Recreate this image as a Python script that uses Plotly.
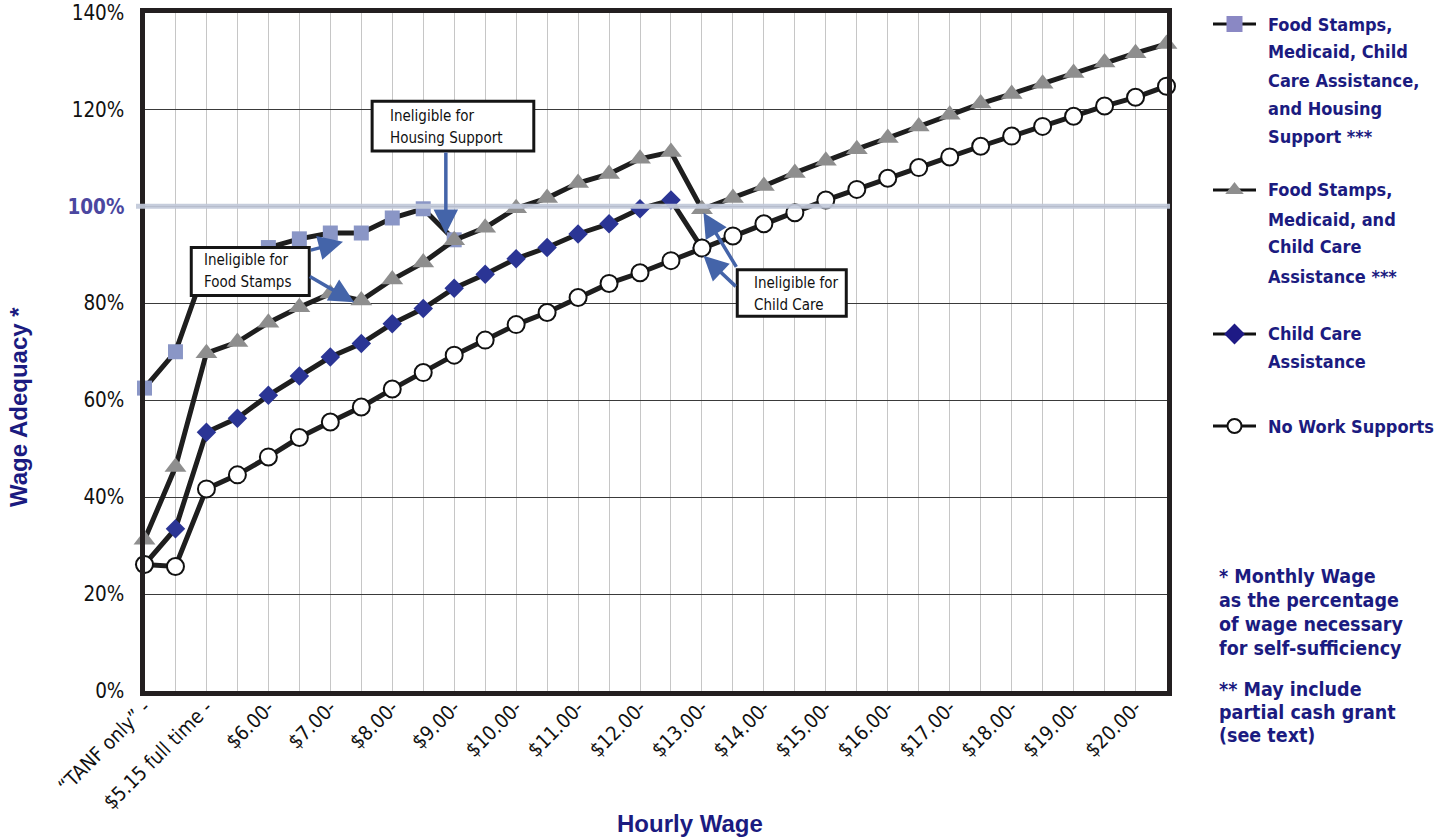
import plotly.graph_objects as go

W, H = 1445, 837
COND = "DejaVu Sans Condensed, Liberation Sans Narrow, sans-serif"
SANS = "Liberation Sans, Arial, DejaVu Sans, sans-serif"
NAVY = "#1B1B80"
LINE = "#1E1E1E"

# Wage steps: "TANF only", two $5.15 steps, then $5.50 ... $20.50 in $0.50 steps
wage_steps = list(range(34))
wage_labels = ["\u201cTANF only\u201d -", "$5.15 full time -", "$6.00-", "$7.00-", "$8.00-",
               "$9.00-", "$10.00-", "$11.00-", "$12.00-", "$13.00-", "$14.00-", "$15.00-",
               "$16.00-", "$17.00-", "$18.00-", "$19.00-", "$20.00-"]

# Wage adequacy (%) for each package of work supports
fs_med_cc_housing = [62.5, 70.0, 88.0, 90.0, 91.5, 93.3, 94.5, 94.5, 97.6, 99.5, 93.1]
fs_med_cc = [31.2, 46.2, 69.7, 72.0, 76.0, 79.2, 82.0, 80.6, 84.9, 88.4, 93.0, 95.6,
             99.6, 101.7, 104.8, 106.7, 109.8, 111.2, 99.4, 101.7, 104.2, 106.9, 109.4,
             111.8, 114.1, 116.5, 118.9, 121.2, 123.2, 125.3, 127.5, 129.7, 131.6, 133.5]
child_care = [26.1, 33.5, 53.4, 56.3, 61.0, 65.0, 68.9, 71.7, 75.8, 78.9, 83.1, 86.0,
              89.2, 91.5, 94.3, 96.4, 99.5, 101.3, 91.4]
no_supports = [26.1, 25.7, 41.7, 44.6, 48.3, 52.3, 55.5, 58.6, 62.3, 65.7, 69.3, 72.4,
               75.6, 78.1, 81.2, 84.1, 86.3, 88.8, 91.4, 93.9, 96.4, 98.7, 101.3, 103.5,
               105.8, 108.0, 110.2, 112.4, 114.5, 116.5, 118.6, 120.7, 122.5, 124.8]

pct_ticks = [0, 20, 40, 60, 80, 100, 120, 140]

series = [
    dict(lines=["Food Stamps,", "Medicaid, Child", "Care Assistance,", "and Housing", "Support ***"],
         y=fs_med_cc_housing, symbol="square", size=15, color="#8A96C6", edge=None,
         leg_size=16, leg_color="#8A88C4", leg_y=24, text_y=[24, 52, 80.5, 109, 137]),
    dict(lines=["Food Stamps,", "Medicaid, and", "Child Care", "Assistance ***"],
         y=fs_med_cc, symbol="triangle-up", size=19, color="#8E8E8E", edge=None,
         leg_size=16, leg_color="#8E8E8E", leg_y=190, text_y=[190, 219, 247, 276]),
    dict(lines=["Child Care", "Assistance"],
         y=child_care, symbol="diamond", size=15, color="#2B3595", edge=None,
         leg_size=16, leg_color="#1E1A85", leg_y=334, text_y=[334, 362]),
    dict(lines=["No Work Supports"],
         y=no_supports, symbol="circle", size=17, color="white",
         edge=dict(color="#111", width=2),
         leg_size=14, leg_color="white", leg_y=426, text_y=[426]),
]

fig = go.Figure()

for s in series:
    fig.add_trace(go.Scatter(
        x=wage_steps[:len(s["y"])], y=s["y"], mode="lines+markers",
        line=dict(color=LINE, width=5),
        marker=dict(symbol=s["symbol"], size=s["size"], color=s["color"],
                    line=s["edge"] or dict(width=0)),
        cliponaxis=False, showlegend=False, hoverinfo="x+y"))

# Legend keys drawn on a pixel-scaled helper axis to the right of the chart
for s in series:
    yk = s["leg_y"]
    fig.add_trace(go.Scatter(
        x=[1213, 1256], y=[yk, yk], mode="lines", line=dict(color="#111", width=3),
        xaxis="x2", yaxis="y2", showlegend=False, hoverinfo="skip"))
    fig.add_trace(go.Scatter(
        x=[1234.5], y=[yk], mode="markers", xaxis="x2", yaxis="y2",
        marker=dict(symbol=s["symbol"], size=s["leg_size"], color=s["leg_color"],
                    line=s["edge"] or dict(width=0)),
        showlegend=False, hoverinfo="skip"))

annotations = []


def text_lines(lines, ys, x, size, color, bold=True, xref="paper", yref="paper", pixel=True):
    font = dict(family=COND, size=size, color=color)
    if bold:
        font["weight"] = "bold"
    for line, yy in zip(lines, ys):
        annotations.append(dict(
            text=line, x=x / W if pixel else x, y=1 - yy / H if pixel else yy,
            xref=xref, yref=yref, xanchor="left", yanchor="middle", align="left",
            showarrow=False, font=font))


for s in series:
    text_lines(s["lines"], s["text_y"], 1266, 18, NAVY)

text_lines(["* Monthly Wage", "as the percentage", "of wage necessary", "for self-sufficiency"],
           [576, 600, 624, 648], 1217, 19.5, NAVY)
text_lines(["** May include", "partial cash grant", "(see text)"],
           [689, 712, 735], 1217, 19.5, NAVY)

# Axis titles
annotations.append(dict(text="<b>Wage Adequacy *</b>", x=18 / W, y=1 - 407 / H,
                        xref="paper", yref="paper", textangle=-90, showarrow=False,
                        xanchor="center", yanchor="middle",
                        font=dict(family=SANS, size=24, color=NAVY)))
annotations.append(dict(text="<b>Hourly Wage</b>", x=690 / W, y=1 - 823 / H,
                        xref="paper", yref="paper", showarrow=False,
                        xanchor="center", yanchor="middle",
                        font=dict(family=SANS, size=24, color=NAVY)))

# Callout boxes (drawn as shapes) with their labels
boxes = [
    (["Ineligible for", "Housing Support"], 7.35, 12.57, 111.4, 121.7, 7.86, [118.6, 114.1]),
    (["Ineligible for", "Food Stamps"], 1.51, 5.32, 81.6, 91.5, 1.87, [88.9, 84.4]),
    (["Ineligible for", "Child Care"], 19.14, 22.66, 77.3, 86.9, 19.63, [84.1, 79.6]),
]
shapes = [dict(type="line", xref="paper", yref="y", x0=136 / W, x1=1170 / W, y0=100, y1=100,
               line=dict(color="#C2C9DA", width=5), opacity=0.92, layer="above")]
for lines, x0, x1, y0, y1, tx, tys in boxes:
    shapes.append(dict(type="rect", xref="x", yref="y", x0=x0, x1=x1, y0=y0, y1=y1,
                       fillcolor="white", line=dict(color="#151515", width=3), layer="above"))
    text_lines(lines, tys, tx, 15, "#111", bold=False, xref="x", yref="y", pixel=False)

# Blue arrows from the callouts to the points where eligibility ends
arrows = [
    (5.32, 90.9, 6.41, 92.7),
    (5.29, 85.7, 6.77, 80.2),
    (9.73, 111.4, 9.73, 94.3),
    (19.14, 87.2, 18.05, 98.7),
    (19.14, 83.2, 18.05, 89.8),
]
for ax0, ay0, hx, hy in arrows:
    annotations.append(dict(text="", x=hx, y=hy, ax=ax0, ay=ay0, xref="x", yref="y",
                            axref="x", ayref="y", showarrow=True, arrowhead=2,
                            arrowsize=1.4, arrowwidth=3.5, arrowcolor="#4464A9"))

pct_labels = ["<b><span style='color:#4B47A0'>100%</span></b>" if v == 100 else f"{v}%"
              for v in pct_ticks]
tick_text = [wage_labels[i // 2] if i % 2 == 0 and i // 2 < len(wage_labels) else ""
             for i in wage_steps]

fig.update_layout(
    width=W, height=H, margin=dict(l=0, r=0, t=0, b=0, autoexpand=False),
    paper_bgcolor="white", plot_bgcolor="white", showlegend=False,
    xaxis=dict(domain=[144.5 / W, 1166.5 / W], range=[0, 33], automargin=False,
               tickmode="array", tickvals=wage_steps, ticktext=tick_text, tickangle=-45,
               tickfont=dict(family=COND, size=20, color="#111"),
               showgrid=True, gridcolor="#C6C6C6", gridwidth=1, zeroline=False,
               showline=True, linecolor="#231F20", linewidth=5, mirror=True,
               ticks="", ticklabelstandoff=-8),
    yaxis=dict(domain=[1 - 691 / H, 1 - 12.5 / H], range=[0, 140], automargin=False,
               tickmode="array", tickvals=pct_ticks, ticktext=pct_labels,
               tickfont=dict(family=COND, size=20.5, color="#111"),
               showgrid=True, gridcolor="#3A3A3A", gridwidth=1, zeroline=False,
               showline=True, linecolor="#231F20", linewidth=5, mirror=True,
               ticks="", ticklabelstandoff=11),
    xaxis2=dict(domain=[1190 / W, 1], range=[1190, W], visible=False, anchor="y2",
                automargin=False, fixedrange=True),
    yaxis2=dict(domain=[0, 1], range=[H, 0], visible=False, anchor="x2",
                automargin=False, fixedrange=True),
    shapes=shapes, annotations=annotations,
)

fig.write_html("out.html")
